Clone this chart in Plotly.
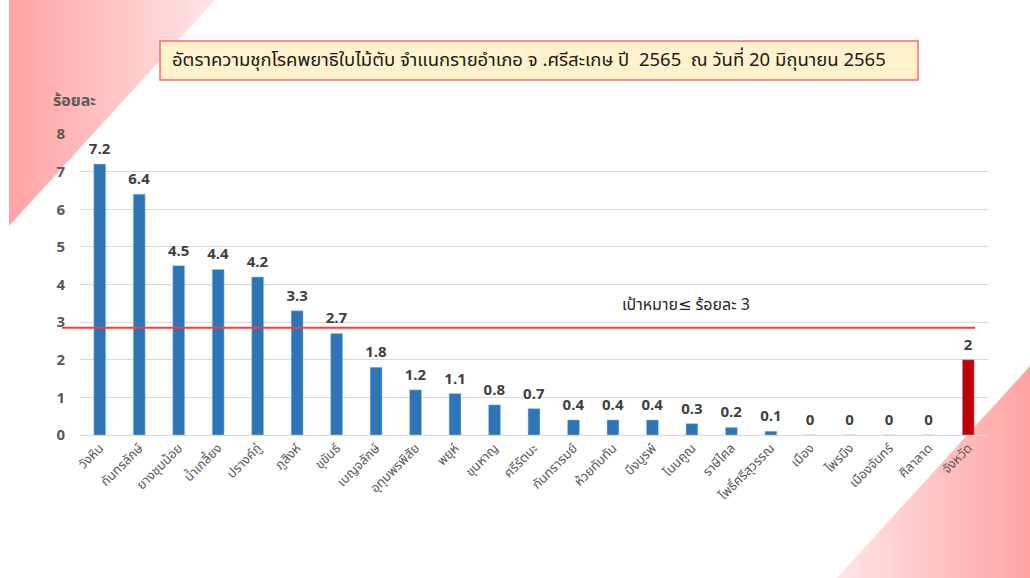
import plotly.graph_objects as go

# ---- data ----
districts = ["วังหิน", "กันทรลักษ์", "ยางชุมน้อย", "น้ำเกลี้ยง", "ปรางค์กู่", "ภูสิงห์", "ขุขันธ์",
             "เบญจลักษ์", "อุทุมพรพิสัย", "พยุห์", "ขุนหาญ", "ศรีรัตนะ", "กันทรารมย์", "ห้วยทับทัน",
             "บึงบูรพ์", "โนนคูณ", "ราษีไศล", "โพธิ์ศรีสุวรรณ", "เมือง", "ไพรบึง", "เมืองจันทร์",
             "ศิลาลาด", "จังหวัด"]
rates = [7.2, 6.4, 4.5, 4.4, 4.2, 3.3, 2.7, 1.8, 1.2, 1.1, 0.8, 0.7, 0.4, 0.4, 0.4, 0.3, 0.2,
         0.1, 0, 0, 0, 0, 2]
y_ticks = [0, 1, 2, 3, 4, 5, 6, 7, 8]
target_line = 2.85
title_text = "อัตราความชุกโรคพยาธิใบไม้ตับ จำแนกรายอำเภอ จ .ศรีสะเกษ ปี  2565  ณ วันที่ 20 มิถุนายน 2565"
target_text = "เป้าหมาย≤ ร้อยละ 3"
y_title = "ร้อยละ"

W, H = 1030, 578
FONT = "Tahoma, 'Noto Sans Thai', 'Leelawadee UI', 'DejaVu Sans', sans-serif"

bar_colors = ["#2E75B6"] * (len(rates) - 1) + ["#C00000"]

fig = go.Figure()

# background decorative triangles (page-pixel axes x/y)
fig.add_trace(go.Scatter(
    x=[9, 215, 9, 9], y=[0, 0, 226, 0], mode="lines", line=dict(width=0),
    fill="toself", fillgradient=dict(type="horizontal",
                                     colorscale=[[0, "#FFA3A3"], [1, "#FFE6E6"]]),
    hoverinfo="skip", showlegend=False, xaxis="x", yaxis="y"))
fig.add_trace(go.Scatter(
    x=[1030, 1030, 837, 1030], y=[366, 578, 578, 366], mode="lines", line=dict(width=0),
    fill="toself", fillgradient=dict(type="horizontal",
                                     colorscale=[[0, "#FFE6E6"], [1, "#FFA3A3"]]),
    hoverinfo="skip", showlegend=False, xaxis="x", yaxis="y"))

# bars
fig.add_trace(go.Bar(
    x=districts, y=rates, marker=dict(color=bar_colors, line=dict(color="#9DC3E6", width=0.5)),
    width=0.3, text=[f"{v:g}" for v in rates], textposition="outside", constraintext="none",
    textfont=dict(family=FONT, size=15, color="#404040", weight="bold"),
    cliponaxis=False, showlegend=False, xaxis="x2", yaxis="y2"))

fig.update_layout(
    width=W, height=H, margin=dict(l=0, r=0, t=0, b=0, autoexpand=False),
    paper_bgcolor="white", plot_bgcolor="rgba(0,0,0,0)",
    font=dict(family=FONT, color="#595959"),
    xaxis=dict(domain=[0, 1], range=[0, W], visible=False, fixedrange=True),
    yaxis=dict(domain=[0, 1], range=[H, 0], visible=False, fixedrange=True),
    xaxis2=dict(domain=[80 / W, 988 / W], anchor="y2", tickangle=-45, automargin=False,
                tickfont=dict(family=FONT, size=13, color="#595959"),
                showgrid=False, showline=False, ticks="", ticklabelstandoff=2),
    yaxis2=dict(domain=[(H - 435) / H, (H - 134) / H], anchor="x2", range=[0, 8],
                automargin=False,
                tickvals=y_ticks, showgrid=True, gridcolor="#D9D9D9", gridwidth=1,
                zeroline=True, zerolinecolor="#D9D9D9", zerolinewidth=1,
                tickfont=dict(family=FONT, size=15, color="#595959", weight="bold"),
                ticklabelstandoff=14),
    bargap=0.7,
)

# target line
fig.add_shape(type="line", xref="paper", yref="y2", x0=62 / W, x1=975 / W,
              y0=target_line, y1=target_line, line=dict(color="#FF3B3B", width=2))
fig.add_annotation(text=target_text, xref="paper", yref="paper", x=686 / W, y=1 - 305 / H,
                   showarrow=False, xanchor="center", yanchor="middle",
                   font=dict(family=FONT, size=16, color="#262626"))

# y-axis title
fig.add_annotation(text=y_title, xref="paper", yref="paper", x=51 / W, y=1 - 101 / H,
                   showarrow=False, xanchor="left", yanchor="middle",
                   font=dict(family=FONT, size=16, color="#595959", weight="bold"))

# title box
fig.add_shape(type="rect", xref="paper", yref="paper", x0=160 / W, x1=918 / W,
              y0=1 - 80 / H, y1=1 - 41 / H, fillcolor="#FFF2CC",
              line=dict(color="#FF6B6B", width=1.5))
fig.add_annotation(text=title_text, xref="paper", yref="paper", x=170 / W, y=1 - 60 / H,
                   showarrow=False, xanchor="left", yanchor="middle",
                   font=dict(family=FONT, size=18.5, color="#1A1A1A"))

fig.write_html("out.html")
